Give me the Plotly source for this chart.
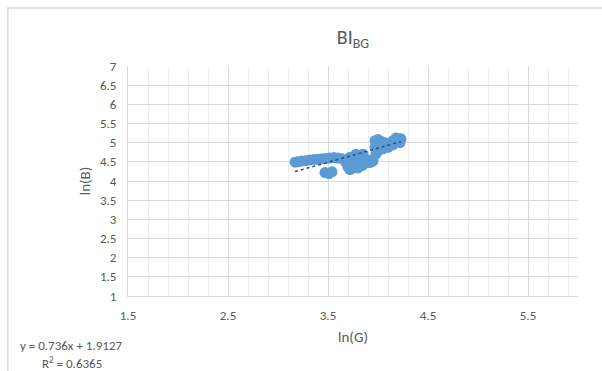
import plotly.graph_objects as go

# Observations: ln(G) vs ln(B)
ln_g = [3.17, 3.20, 3.24, 3.28, 3.32, 3.36, 3.40, 3.44, 3.48, 3.52, 3.56, 3.60, 3.64,
        3.47, 3.51, 3.54,
        3.68, 3.70, 3.72, 3.74, 3.75, 3.77, 3.78, 3.80, 3.80, 3.82, 3.84, 3.85, 3.87,
        3.88, 3.90, 3.92, 3.95, 3.72, 3.78,
        3.97, 3.97, 4.00, 4.03, 4.05, 4.07, 4.10, 4.12, 4.15, 4.18, 4.20, 4.23, 4.22,
        4.05, 4.00, 3.98, 4.15, 4.10]
ln_b = [4.49, 4.50, 4.52, 4.53, 4.55, 4.56, 4.57, 4.58, 4.59, 4.60, 4.61, 4.60, 4.58,
        4.22, 4.19, 4.24,
        4.48, 4.36, 4.30, 4.33, 4.58, 4.42, 4.66, 4.50, 4.34, 4.62, 4.40, 4.70, 4.52,
        4.47, 4.55, 4.48, 4.52, 4.62, 4.70,
        4.88, 5.05, 5.08, 5.04, 4.95, 5.00, 4.90, 4.96, 5.05, 5.12, 5.10, 5.10, 5.00,
        4.84, 4.78, 4.70, 4.94, 4.88]

# Linear trendline y = 0.736x + 1.9127
slope = 0.736
intercept = 1.9127
r_squared = 0.6365
trend_x = [min(ln_g), max(ln_g)]
trend_y = [slope * v + intercept for v in trend_x]

x_ticks = [1.5, 2.5, 3.5, 4.5, 5.5]
y_ticks = [1, 1.5, 2, 2.5, 3, 3.5, 4, 4.5, 5, 5.5, 6, 6.5, 7]

txt = "#595959"
fnt = "Calibri, Carlito, 'Open Sans', sans-serif"

fig = go.Figure()
fig.add_trace(go.Scatter(
    x=ln_g, y=ln_b, mode="markers",
    marker=dict(size=11, color="#5B9BD5", line=dict(width=0)),
    showlegend=False,
))
fig.add_trace(go.Scatter(
    x=trend_x, y=trend_y, mode="lines",
    line=dict(color="#2F4B7C", width=1.5, dash="dot"),
    showlegend=False,
))

fig.update_layout(
    width=602, height=371,
    margin=dict(l=128, r=24, t=66, b=75),
    paper_bgcolor="white", plot_bgcolor="white",
    font=dict(family=fnt, color=txt, size=13),
    title=dict(text="BI<sub>BG</sub>", x=0.5, xanchor="center", xref="paper",
               y=0.9, yanchor="middle", font=dict(size=20, color=txt)),
    xaxis=dict(
        range=[1.5, 6.0], tickvals=x_ticks, ticktext=[str(v) for v in x_ticks],
        showgrid=True, gridcolor="#d9d9d9", gridwidth=1,
        minor=dict(dtick=0.2, tick0=1.5, showgrid=True, gridcolor="#efefef", gridwidth=1),
        zeroline=False, showline=True, linecolor="#d9d9d9",
        ticks="", ticklabelstandoff=7,
        title=dict(text="ln(G)", font=dict(size=15, color=txt), standoff=9),
    ),
    yaxis=dict(
        range=[1, 7], tickvals=y_ticks, ticktext=[f"{v:g}" for v in y_ticks],
        showgrid=True, gridcolor="#d9d9d9", gridwidth=1,
        zeroline=False, showline=True, linecolor="#d9d9d9",
        ticks="", ticklabelstandoff=8,
        title=dict(text="ln(B)", font=dict(size=15, color=txt), standoff=5),
    ),
    shapes=[dict(type="rect", xref="paper", yref="paper",
                 x0=-0.267, x1=1.2, y0=-0.5, y1=1.252,
                 line=dict(color="#d9d9d9", width=1.5), fillcolor="rgba(0,0,0,0)",
                 layer="below")],
    annotations=[
        dict(text=f"y = {slope}x + {intercept}", xref="paper", yref="paper",
             x=-0.245, y=-0.215, xanchor="left", yanchor="middle",
             showarrow=False, font=dict(size=13, color=txt)),
        dict(text=f"R<sup>2</sup> = {r_squared}", xref="paper", yref="paper",
             x=-0.195, y=-0.29, xanchor="left", yanchor="middle",
             showarrow=False, font=dict(size=13, color=txt)),
    ],
)

fig.write_html("out.html")
